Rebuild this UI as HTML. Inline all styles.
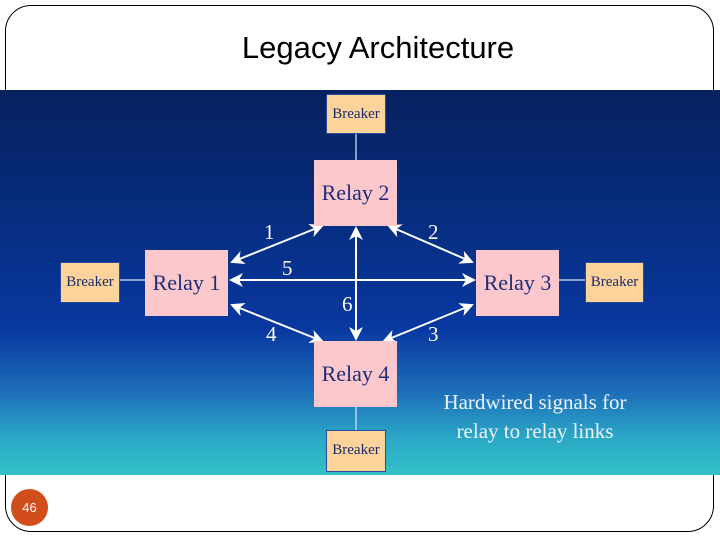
<!DOCTYPE html>
<html><head><style>
html,body{margin:0;padding:0;background:#fff;}
body{width:720px;height:540px;position:relative;overflow:hidden;font-family:"Liberation Serif",serif;}
.frame{position:absolute;left:5px;top:5px;width:709px;height:527px;border:1.3px solid #000;border-radius:26px;box-sizing:border-box;}
.title{position:absolute;left:0;width:756px;top:30px;text-align:center;font-family:"Liberation Sans",sans-serif;font-size:31px;color:#000;}
.img{position:absolute;left:0;top:90px;width:720px;height:385px;background:linear-gradient(to bottom,#06215f 0%,#062c7c 30%,#0838a0 62%,#1d6cb8 78%,#2aa6c6 90%,#33c2c8 100%);}
.b{position:absolute;background:#fdd39c;border:1px solid #2a4a9a;box-sizing:border-box;color:#1a2a6a;font-size:15px;text-align:center;line-height:38px;}
.r{position:absolute;background:#fdc8cc;color:#1e2e78;font-size:22px;text-align:center;line-height:66px;width:83px;height:66px;}
.n{position:absolute;color:#fff;font-size:21px;}
.cap{position:absolute;left:400px;top:388px;width:270px;text-align:center;color:#f0f4ff;font-size:21px;line-height:29px;}
.badge{position:absolute;left:11px;top:489px;width:37px;height:37px;border-radius:50%;background:#d24d1c;color:#fff;font-family:"Liberation Sans",sans-serif;font-size:13px;text-align:center;line-height:37px;}
</style></head><body>
<div class="frame"></div>
<div class="title">Legacy Architecture</div>
<div class="img"></div>
<svg width="720" height="540" style="position:absolute;left:0;top:0">
<defs><marker id="a" markerWidth="10" markerHeight="10" refX="8" refY="5" orient="auto-start-reverse" markerUnits="userSpaceOnUse"><path d="M0,0 L10,5 L0,10 L3,5z" fill="#fff"/></marker>
<marker id="c" markerWidth="14" markerHeight="14" refX="12" refY="7" orient="auto-start-reverse" markerUnits="userSpaceOnUse"><path d="M0,0 L14,7 L0,14 L4,7z" fill="#fff"/></marker></defs>
<g stroke="#dfe6ff" stroke-width="1.2">
<line x1="356" y1="134" x2="356" y2="160"/><line x1="120" y1="280" x2="145" y2="280"/><line x1="559" y1="280" x2="585" y2="280"/><line x1="356" y1="406" x2="356" y2="430"/></g>
<g stroke="#fff" stroke-width="2" fill="none">
<line x1="232" y1="262" x2="322" y2="226" marker-start="url(#c)" marker-end="url(#c)"/>
<line x1="389" y1="226" x2="472" y2="262" marker-start="url(#c)" marker-end="url(#c)"/>
<line x1="472" y1="305" x2="384" y2="341" marker-start="url(#c)" marker-end="url(#c)"/>
<line x1="232" y1="305" x2="322" y2="341" marker-start="url(#c)" marker-end="url(#c)"/>
<line x1="231" y1="280" x2="474" y2="280" marker-start="url(#c)" marker-end="url(#c)"/>
<line x1="356" y1="228" x2="356" y2="339" marker-start="url(#c)" marker-end="url(#c)"/>
</g></svg>
<div class="b" style="left:326px;top:94px;width:60px;height:40px;">Breaker</div>
<div class="b" style="left:60px;top:262px;width:60px;height:41px;">Breaker</div>
<div class="b" style="left:585px;top:262px;width:59px;height:41px;">Breaker</div>
<div class="b" style="left:326px;top:430px;width:60px;height:42px;">Breaker</div>
<div class="r" style="left:314px;top:160px;">Relay 2</div>
<div class="r" style="left:145px;top:250px;">Relay 1</div>
<div class="r" style="left:476px;top:250px;">Relay 3</div>
<div class="r" style="left:314px;top:341px;">Relay 4</div>
<div class="n" style="left:264px;top:220px;">1</div>
<div class="n" style="left:428px;top:220px;">2</div>
<div class="n" style="left:282px;top:256px;">5</div>
<div class="n" style="left:342px;top:292px;">6</div>
<div class="n" style="left:266px;top:322px;">4</div>
<div class="n" style="left:428px;top:322px;">3</div>
<div class="cap">Hardwired signals for<br>relay to relay links</div>
<div class="badge">46</div>
</body></html>
